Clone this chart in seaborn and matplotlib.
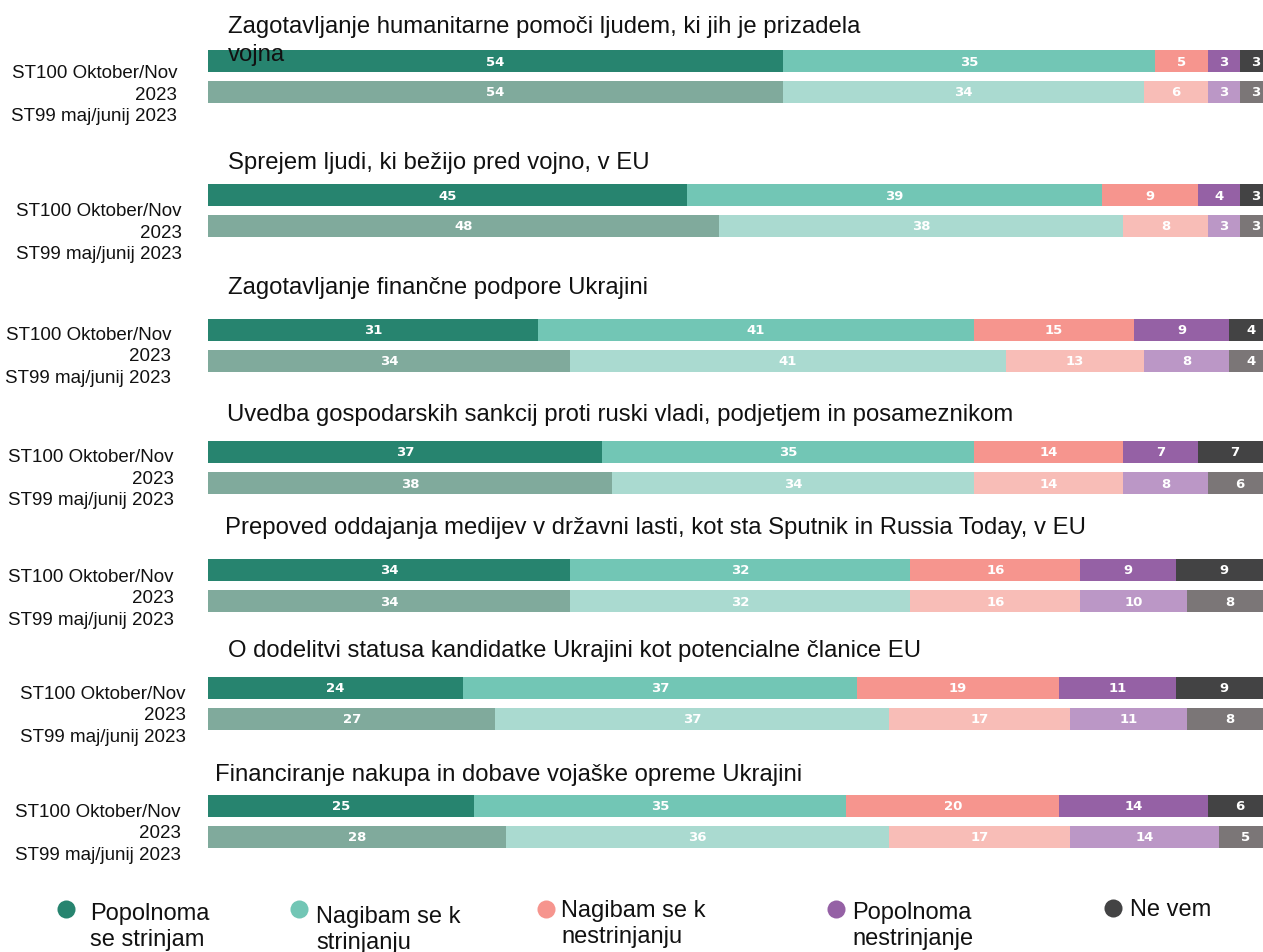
import numpy as np
import pandas as pd
import matplotlib
matplotlib.use("Agg")
import matplotlib.pyplot as plt
import seaborn as sns

# ---------------- data ----------------
titles = [
    "Zagotavljanje humanitarne pomoči ljudem, ki jih je prizadela\nvojna",
    "Sprejem ljudi, ki bežijo pred vojno, v EU",
    "Zagotavljanje finančne podpore Ukrajini",
    "Uvedba gospodarskih sankcij proti ruski vladi, podjetjem in posameznikom",
    "Prepoved oddajanja medijev v državni lasti, kot sta Sputnik in Russia Today, v EU",
    "O dodelitvi statusa kandidatke Ukrajini kot potencialne članice EU",
    "Financiranje nakupa in dobave vojaške opreme Ukrajini",
]
waves = ["ST100 Oktober/Nov 2023", "ST99 maj/junij 2023"]
categories = ["Popolnoma se strinjam", "Nagibam se k strinjanju",
              "Nagibam se k nestrinjanju", "Popolnoma nestrinjanje", "Ne vem"]
legend_labels = ["Popolnoma\nse strinjam", "Nagibam se k\nstrinjanju",
                 "Nagibam se k\nnestrinjanju", "Popolnoma\nnestrinjanje", "Ne vem"]

st100 = [
    [54, 35, 5, 3, 3],
    [45, 39, 9, 4, 3],
    [31, 41, 15, 9, 4],
    [37, 35, 14, 7, 7],
    [34, 32, 16, 9, 9],
    [24, 37, 19, 11, 9],
    [25, 35, 20, 14, 6],
]
st99 = [
    [54, 34, 6, 3, 3],
    [48, 38, 8, 3, 3],
    [34, 41, 13, 8, 4],
    [38, 34, 14, 8, 6],
    [34, 32, 16, 10, 8],
    [27, 37, 17, 11, 8],
    [28, 36, 17, 14, 5],
]

dark_colors = ["#27846F", "#72C6B5", "#F6958E", "#9561A5", "#434344"]
light_colors = ["#80AA9C", "#AADAD0", "#F8BDB7", "#BB97C6", "#7B7677"]

# ---------------- layout (pixels) ----------------
W, H = 1263, 953
bar1_y = [62, 196, 331, 453, 571, 689, 807]
bar_gap = 31
title_x = [228, 228, 228, 227, 225, 228, 215]
title_y = [27, 163, 288, 415, 528, 651, 775]   # first line centre
title_line = 28
lab_x = [177, 182, 171, 174, 174, 186, 181]
lab_y = [95, 233, 357, 479, 599, 716, 834]
bar_left = 208
bar_full = 1064  # pixels for 100 %

leg_mx = [66, 299, 546, 836, 1113]
leg_my = [910, 910, 910, 910, 909]
leg_tx = [90, 316, 561, 852, 1130]
leg_ty = [927, 930, 924, 926, 910]

sns.set_theme(style="white")
plt.rcParams["font.family"] = ["Liberation Sans", "DejaVu Sans"]

fig = plt.figure(figsize=(W / 100, H / 100), dpi=100)

for g in range(len(titles)):
    top = bar1_y[g] - bar_gap / 2
    ax = fig.add_axes([bar_left / W, 1 - (top + 2 * bar_gap) / H,
                       bar_full / W, 2 * bar_gap / H])
    vals = np.array([st100[g], st99[g]])
    cum = np.cumsum(vals, axis=1)
    df = pd.DataFrame({"wave": waves})
    for k in range(len(categories)):
        df[f"c{k}"] = cum[:, k]
    for k in reversed(range(len(categories))):
        sns.barplot(data=df, x=f"c{k}", y="wave", hue="wave", order=waves,
                    hue_order=waves,
                    palette={waves[0]: dark_colors[k], waves[1]: light_colors[k]},
                    dodge=False, legend=False, width=22 / bar_gap,
                    saturation=1, linewidth=0, ax=ax)
    for i in range(2):
        left = 0
        for k in range(len(categories)):
            v = vals[i, k]
            ax.text(left + v / 2, i, str(v), ha="center", va="center",
                    color="white", fontsize=9.5, fontweight="bold",
                    family="DejaVu Sans")
            left += v
    ax.set_xlim(0, 100)
    ax.set_ylim(1.5, -0.5)
    ax.set_axis_off()

    for j, line in enumerate(titles[g].split("\n")):
        fig.text(title_x[g] / W, 1 - (title_y[g] + j * title_line) / H, line,
                 fontsize=17.2, ha="left", va="center", color="#111111",
                 zorder=5)
    fig.text(lab_x[g] / W, 1 - lab_y[g] / H,
             "ST100 Oktober/Nov\n2023\nST99 maj/junij 2023",
             fontsize=13.5, ha="right", va="center", multialignment="right",
             linespacing=1.37, color="#111111")

# legend overlay
lax = fig.add_axes([0, 0, 1, 1])
lax.set_xlim(0, W)
lax.set_ylim(H, 0)
lax.set_axis_off()
lax.patch.set_alpha(0)
for k in range(len(categories)):
    lax.plot(leg_mx[k], leg_my[k], "o", ms=13, color=dark_colors[k], mec="none")
    lax.text(leg_tx[k], leg_ty[k], legend_labels[k], fontsize=17, ha="left",
             va="center", linespacing=1.2, color="#111111")

fig.savefig("out.png", dpi=100)
